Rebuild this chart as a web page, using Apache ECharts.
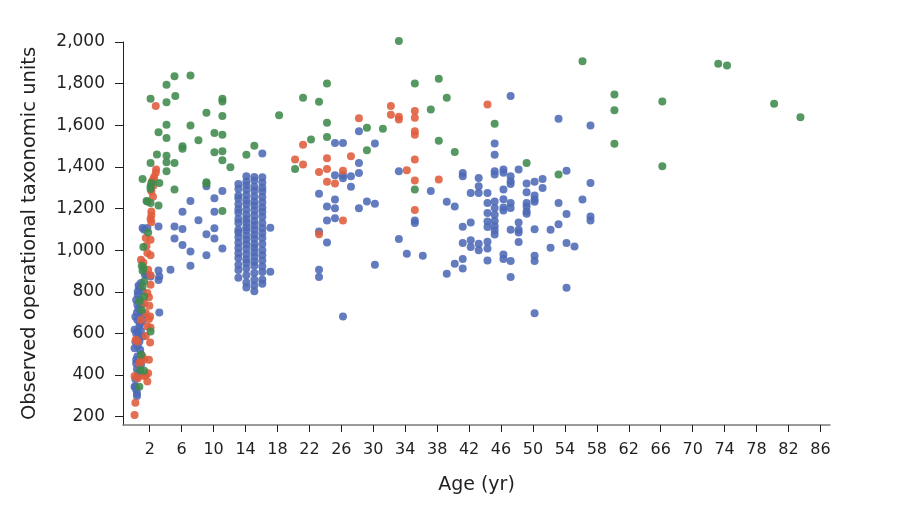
<!DOCTYPE html>
<html>
<head>
<meta charset="utf-8">
<script src="https://cdn.jsdelivr.net/npm/echarts@6/dist/echarts.min.js"></script>
<style>
html,body{margin:0;padding:0;background:#fff;}
#chart{width:914px;height:506px;}
</style>
</head>
<body>
<div id="chart"></div>
<script>
// ---- Data: [age (yr), observed OTUs] ----
const blueSeries = [
  // infants strip
  [0.7,818],[0.5,786],[0.8,762],[0.45,738],[0.4,700],[0.9,700],[0.1,617],[0.5,609],[0.1,529],[0.3,473],
  [0.4,428],[0.1,344],[0.4,299],[0.9,842],[1.1,802],[0.45,665],[0.8,649],[1.1,585],[0.7,561],[0.8,521],
  [0.45,489],[0.9,449],[0.5,393],[0.2,344],[0.4,312],[0.5,801],[0.6,830],[0.3,760],[0.6,720],[0.2,680],
  [0.7,635],[0.3,600],[0.9,612],[0.6,580],[0.2,560],[0.5,540],[0.9,500],[0.3,455],[0.6,410],[0.2,380],
  [1.0,740],[1.2,690],[0.6,470],[0.3,330],[1.1,660],
  [1.1,1106],[1.3,1098],[1.7,1106],[1.4,882],[2.1,874],[3.2,874],[3.1,902],[3.1,857],[4.6,906],[3.2,700],[1.6,882],
  // 3-12 yr
  [3.1,1114],[5.1,1114],[5.1,1056],[6.1,1185],[6.1,1102],[6.1,1025],[7.1,1236],[7.1,993],[7.1,925],[8.1,1144],
  [9.1,1307],[9.1,1076],[9.1,976],[10.1,1249],[10.1,1185],[10.1,1105],[10.1,1056],[11.1,1284],[11.1,1008],
  // 13-17 yr cluster
  [13.1,1318],[13.1,1295],[13.1,1262],[13.1,1248],[13.1,1220],[13.1,1196],[13.1,1180],[13.1,1150],[13.1,1130],[13.1,1098],
  [13.1,1085],[13.1,1062],[13.1,1035],[13.1,1010],[13.1,985],[13.1,962],[13.1,930],[13.1,905],[13.1,868],
  [14.1,1355],[14.1,1330],[14.1,1312],[14.1,1290],[14.1,1265],[14.1,1240],[14.1,1222],[14.1,1195],[14.1,1170],[14.1,1150],
  [14.1,1132],[14.1,1110],[14.1,1095],[14.1,1070],[14.1,1050],[14.1,1028],[14.1,1005],[14.1,980],[14.1,955],[14.1,938],
  [14.1,912],[14.1,880],[14.1,845],[14.1,820],
  [15.1,1352],[15.1,1335],[15.1,1305],[15.1,1285],[15.1,1258],[15.1,1232],[15.1,1215],[15.1,1190],[15.1,1165],[15.1,1140],
  [15.1,1120],[15.1,1098],[15.1,1075],[15.1,1055],[15.1,1030],[15.1,1012],[15.1,990],[15.1,968],[15.1,945],[15.1,925],
  [15.1,890],[15.1,858],[15.1,830],[15.1,802],
  [16.1,1464],[16.1,1350],[16.1,1325],[16.1,1300],[16.1,1282],[16.1,1255],[16.1,1230],[16.1,1205],[16.1,1185],[16.1,1160],
  [16.1,1130],[16.1,1105],[16.1,1082],[16.1,1058],[16.1,1030],[16.1,1000],[16.1,975],[16.1,950],[16.1,922],[16.1,895],
  [16.1,858],[16.1,838],
  [17.1,1108],[17.1,896],
  // 23-31 yr
  [23.2,1271],[23.2,1090],[23.2,906],[23.2,871],[24.2,1210],[24.2,1143],[24.2,1037],[25.2,1515],[26.2,1515],[25.2,1360],
  [26.2,1360],[26.2,1345],[27.2,1355],[27.2,1304],[25.2,1243],[25.2,1201],[25.2,1153],[26.2,681],[28.2,1571],[28.2,1419],
  [28.2,1371],[28.2,1201],[29.2,1234],[30.2,1512],[30.2,1223],[30.2,930],
  // 33-40 yr
  [33.2,1379],[33.2,1053],[34.2,983],[35.2,1142],[35.2,1130],[36.2,973],[37.2,1284],[39.2,1233],[39.2,887],[40.2,1210],[40.2,935],
  // 41-58 yr
  [41.2,1371],[41.2,1355],[41.2,1112],[41.2,1034],[41.2,957],[41.2,912],
  [42.2,1275],[42.2,1133],[42.2,1047],[42.2,1015],
  [43.2,1347],[43.2,1307],[43.2,1275],[43.2,1031],[43.2,999],
  [44.3,1275],[44.3,1227],[44.3,1179],[44.3,1138],[44.3,1111],[44.3,1040],[44.3,1008],[44.3,950],
  [45.2,1512],[45.2,1458],[45.2,1379],[45.2,1363],[45.2,1234],[45.2,1203],[45.2,1170],[45.2,1140],[45.2,1115],[45.2,1095],[45.2,1075],
  [46.3,1387],[46.3,1372],[46.3,1291],[46.3,1245],[46.3,1205],[46.3,1190],[46.3,979],[46.3,957],
  [47.2,1740],[47.2,1355],[47.2,1331],[47.2,1318],[47.2,1227],[47.2,1203],[47.2,1098],[47.2,948],[47.2,871],
  [48.2,1387],[48.2,1133],[48.2,1098],[48.2,1085],[48.2,1039],
  [49.2,1320],[49.2,1278],[49.2,1227],[49.2,1210],[49.2,1186],[49.2,1175],
  [50.2,1329],[50.2,1262],[50.2,1243],[50.2,1233],[50.2,1101],[50.2,973],[50.2,948],[50.2,697],
  [51.2,1342],[51.2,1299],[52.2,1098],[52.2,1012],[53.2,1631],[53.2,1227],[53.2,1124],
  [54.2,1381],[54.2,1174],[54.2,1034],[54.2,819],[55.2,1018],[56.2,1243],
  [57.2,1599],[57.2,1323],[57.2,1162],[57.2,1142]
];
const redSeries = [
  [2.75,1692],[2.8,1387],[2.75,1372],[2.55,1352],[2.45,1340],[2.3,1331],[2.45,1310],[2.2,1283],[2.4,1256],[2.2,1186],
  [2.2,1166],[2.1,1150],[2.2,1134],[2.1,1050],[1.5,1058],[1.6,1021],[1.7,986],[2.1,975],[0.9,954],[1.2,941],
  [1.8,906],[2.1,880],[2.1,834],[1.7,794],[1.9,774],[1.3,746],[1.95,733],[1.5,698],[2.05,681],[1.9,669],
  [0.9,665],[1.7,633],[2.1,628],[1.5,588],[0.45,561],[0.25,569],[2.05,556],[1.9,473],[1.3,473],[0.9,476],
  [0.7,457],[1.1,489],[0.1,396],[0.5,385],[1.3,396],[1.8,409],[1.7,369],[1.5,399],[0.2,267],[0.1,208],
  [21.2,1506],[20.2,1435],[21.2,1412],[24.2,1441],[27.2,1451],[23.2,1376],[24.2,1390],[24.2,1329],[26.2,1381],[25.2,1320],
  [26.2,1143],[23.2,1076],[28.2,1634],[32.2,1692],[32.2,1650],[33.2,1641],[33.2,1628],[35.2,1668],[35.2,1636],[35.2,1571],
  [35.2,1555],[35.2,1435],[35.2,1335],[35.2,1193],[34.2,1384],[38.2,1339],[44.3,1700]
];
const greenSeries = [
  [1.1,1342],[2.1,1419],[2.2,1323],[3.2,1323],[2.1,1307],[2.1,1294],[1.6,1236],[2.1,1227],[1.7,1234],[3.1,1214],
  [1.8,1085],[1.2,1015],[1.0,925],[1.2,914],[1.1,901],[1.1,825],[1.3,849],[1.3,777],[0.7,753],[1.0,712],
  [2.1,609],[0.9,497],[0.8,424],[0.7,344],[1.3,421],[2.9,1459],
  [2.1,1727],[5.1,1836],[7.1,1839],[4.1,1795],[5.2,1740],[4.1,1711],[11.1,1727],[11.1,1714],[9.1,1660],[11.1,1644],
  [18.2,1648],[4.1,1603],[7.1,1599],[3.1,1566],[4.1,1539],[8.1,1528],[10.1,1563],[11.1,1554],[6.1,1499],[6.1,1487],
  [15.1,1502],[10.1,1470],[11.1,1475],[11.1,1432],[14.1,1458],[4.1,1454],[4.1,1422],[5.1,1419],[4.1,1379],[12.1,1398],
  [5.1,1291],[9.1,1326],[9.1,1320],[11.1,1188],
  [20.2,1390],[22.2,1531],[21.2,1732],[23.2,1713],[24.2,1801],[24.2,1612],[24.2,1544],[29.2,1588],[29.2,1480],[31.2,1583],
  [33.2,2005],[35.2,1801],[35.2,1291],[37.2,1676],[38.2,1823],[38.2,1526],[39.2,1732],[40.2,1472],[45.2,1607],[49.2,1419],
  [53.2,1363],[56.2,1908],[60.2,1748],[60.2,1672],[60.2,1511],[66.2,1714],[66.2,1403],[73.2,1896],[74.3,1887],[80.2,1703],
  [83.5,1639]
];
const xTickValues = [2,6,10,14,18,22,26,30,34,38,42,46,50,54,58,62,66,70,74,78,82,86];
const yTickValues = [200,400,600,800,1000,1200,1400,1600,1800,2000];
const xAxisTitle = 'Age (yr)';
const yAxisTitle = 'Observed operational taxonomic units';

const chart = echarts.init(document.getElementById('chart'), null, {renderer: 'canvas'});
const FONT = '"DejaVu Sans", sans-serif';
function pts(data, color) {
  return {
    type: 'scatter',
    data: data,
    symbolSize: 8,
    clip: false,
    itemStyle: {color: color, opacity: 0.88},
    emphasis: {disabled: true}
  };
}
chart.setOption({
  animation: false,
  backgroundColor: '#ffffff',
  grid: {left: 123, right: 84, top: 42, bottom: 81},
  xAxis: {
    type: 'value', min: -1.35, max: 87.2,
    name: xAxisTitle, nameLocation: 'middle', nameGap: 51,
    nameTextStyle: {fontFamily: FONT, fontSize: 19, color: '#231f20'},
    axisLine: {show: true, onZero: false, lineStyle: {color: '#7a7a7a', width: 1.5}},
    axisTick: {show: true, length: 7, customValues: xTickValues, lineStyle: {color: '#231f20', width: 1}},
    axisLabel: {customValues: xTickValues, margin: 17, fontFamily: FONT, fontSize: 16, color: '#231f20'},
    splitLine: {show: false}
  },
  yAxis: {
    type: 'value', min: 160, max: 2000,
    name: yAxisTitle, nameLocation: 'middle', nameGap: 83, nameRotate: 90,
    nameTextStyle: {fontFamily: FONT, fontSize: 19.5, color: '#231f20'},
    axisLine: {show: true, onZero: false, lineStyle: {color: '#231f20', width: 1}},
    axisTick: {show: true, length: 8, customValues: yTickValues, lineStyle: {color: '#231f20', width: 1}},
    axisLabel: {customValues: yTickValues, margin: 18, fontFamily: FONT, fontSize: 17, color: '#231f20',
      formatter: v => v.toLocaleString('en-US')},
    splitLine: {show: false}
  },
  series: [pts(blueSeries, '#4d6ab6'), pts(redSeries, '#e05c3c'), pts(greenSeries, '#3f8a4c')]
});
</script>
</body>
</html>
